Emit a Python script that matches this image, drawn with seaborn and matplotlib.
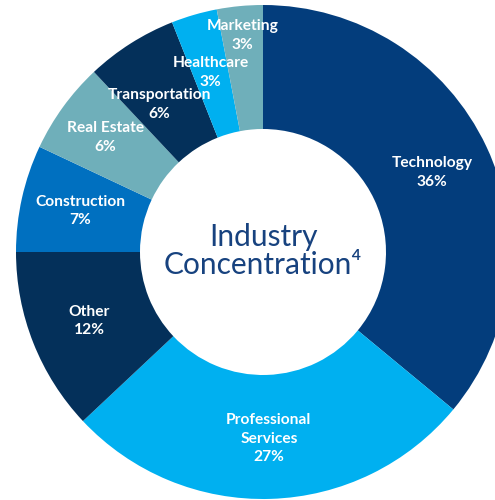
import numpy as np
import matplotlib
matplotlib.use("Agg")
import matplotlib.pyplot as plt
import seaborn as sns

# data, clockwise from 12 o'clock
industries = ["Technology", "Professional\nServices", "Other", "Construction",
              "Real Estate", "Transportation", "Healthcare", "Marketing"]
shares = [36, 27, 12, 7, 6, 6, 3, 3]
colors = ["#033D7C", "#00B0F0", "#04305A", "#0070C0",
          "#6FAFBA", "#04305A", "#00B0F0", "#6FAFBA"]

sns.set_style("white")
plt.rcParams['font.family'] = ['Lato', 'DejaVu Sans']

fig = plt.figure(figsize=(4.95, 5.0), dpi=100)
ax = fig.add_axes([0, 0, 1, 1])

center = (263, 248)
R = 247
wedges, texts = ax.pie(shares, colors=colors, startangle=90, counterclock=False,
                       center=center, radius=R, labels=None,
                       wedgeprops=dict(width=R - 123, linewidth=0))
ax.set_xlim(0, 495)
ax.set_ylim(0, 500)
ax.axis("off")

# labels at mid-angle of each wedge (radius factor, angle nudge)
label_pos = {"Marketing": (0.88, 0), "Real Estate": (0.79, 0),
             "Transportation": (0.73, 2.8)}
for w, name, val in zip(wedges, industries, shares):
    rf, dth = label_pos.get(name, (0.757, 0))
    mid = np.deg2rad((w.theta1 + w.theta2) / 2 + dth)
    x = center[0] + R * rf * np.cos(mid)
    y = center[1] + R * rf * np.sin(mid)
    ax.text(x, y, f"{name}\n{val}%", ha="center", va="center", color="white",
            fontsize=11.2, fontweight="bold", linespacing=1.4)

ax.text(center[0], center[1] + 1, "Industry\nConcentration⁴", ha="center", va="center",
        color="#17427F", fontsize=21.5, linespacing=1.0)

fig.savefig("out.png", dpi=100)
